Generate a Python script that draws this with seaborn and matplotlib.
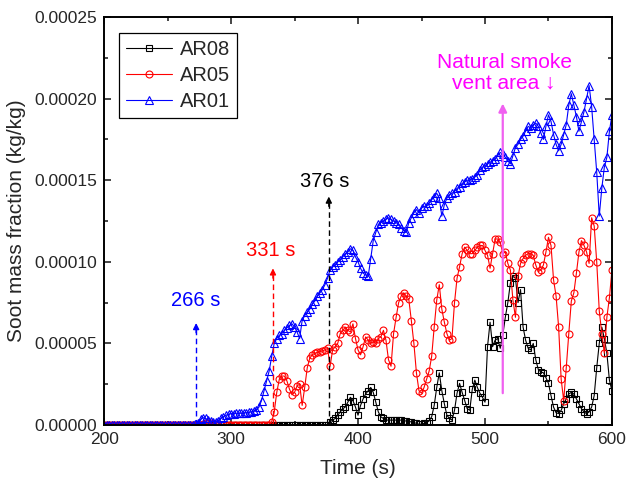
# Soot mass fraction vs time for three vent area cases

import numpy as np
import pandas as pd
import matplotlib
matplotlib.use("Agg")
import matplotlib.pyplot as plt
from matplotlib.ticker import MultipleLocator, FormatStrFormatter
import seaborn as sns

# Time (s), sampled every 2 s
time = np.arange(200, 601, 2)

# Soot mass fraction in units of 1e-5 kg/kg
ar08 = ([0.0] * 89 +
        [0.2, 0.3, 0.4, 0.6, 0.8, 1.0, 1.1, 1.4, 1.7, 1.5, 1.1, 0.6, 1.2, 1.6, 1.9, 2.1, 2.3, 2.0, 1.4, 0.8,
         0.5, 0.4, 0.3, 0.3, 0.3, 0.3, 0.3, 0.3, 0.3, 0.25, 0.25, 0.2, 0.2, 0.15, 0.1, 0.05, 0.05, 0.1, 0.15, 0.25,
         0.5, 1.2, 2.3, 3.2, 2.1, 1.3, 0.6, 0.4, 0.3, 0.9, 1.95, 2.55, 2.0, 1.5, 1.0, 0.9, 2.2, 2.75, 2.3, 1.95,
         1.7, 1.4, 4.8, 6.3, 4.8, 5.2, 5.3, 4.7, 5.5, 6.6, 7.5, 8.7, 9.1, 9.0, 7.5, 8.3, 6.0, 5.2, 4.7, 4.6,
         5.0, 4.0, 3.4, 3.25, 3.2, 2.9, 2.55, 1.8, 1.1, 0.75, 0.7, 0.9, 1.3, 1.6, 1.9, 2.0, 1.9, 1.6, 1.3, 1.0,
         0.8, 0.7, 0.8, 1.1, 1.8, 3.5, 5.0, 6.0, 5.3, 4.4, 2.75, 2.1])

ar05 = ([0.0] * 39 +
        [0.05, 0.1, 0.12, 0.1, 0.08, 0.05, 0.03] +
        [0.0] * 20 +
        [0.2, 0.8, 2.0, 2.8, 3.0, 3.0, 2.7, 2.2, 1.85, 2.0, 2.4, 2.5, 1.2, 2.3, 3.5, 4.1, 4.3, 4.4, 4.45, 4.5,
         4.55, 4.6, 4.7, 3.6, 4.6, 4.8, 5.0, 5.6, 5.8, 6.0, 5.8, 5.7, 6.2, 5.3, 4.6, 4.3, 4.8, 5.4, 5.2, 5.0,
         5.1, 5.0, 5.3, 5.4, 5.8, 5.2, 4.0, 3.6, 5.6, 6.6, 7.5, 7.9, 8.1, 7.9, 7.7, 6.4, 5.0, 3.2, 2.1, 1.95,
         2.3, 2.8, 3.3, 4.2, 6.0, 7.65, 8.6, 7.1, 6.3, 5.6, 5.2, 5.3, 7.5, 9.0, 9.7, 10.5, 10.9, 10.7, 10.5, 10.5,
         10.7, 10.9, 11.0, 11.0, 10.7, 10.4, 9.6, 10.5, 11.4, 11.4, 11.2, 10.5, 10.6, 9.9, 9.5, 7.65, 6.6, 9.1, 9.9, 10.2,
         10.4, 10.5, 10.5, 10.4, 9.8, 9.4, 9.5, 9.8, 10.6, 11.5, 11.0, 8.9, 7.9, 6.0, 2.8, 1.5, 3.5, 5.6, 7.6, 8.1,
         9.3, 10.6, 11.3, 11.0, 10.6, 9.9, 12.7, 12.2, 10.0, 7.0, 5.6, 4.4, 6.6, 7.8, 9.5])

ar01 = ([0.0] * 36 +
        [0.05, 0.15, 0.35, 0.45, 0.4, 0.3, 0.25, 0.2, 0.2, 0.25, 0.4, 0.5, 0.6, 0.65,
         0.7, 0.7, 0.72, 0.72, 0.72, 0.75, 0.75, 0.78, 0.8, 0.85, 0.9, 1.1, 1.5, 2.1, 2.7, 3.3, 4.2, 5.0, 5.3, 5.5,
         5.6, 5.8, 5.95, 6.1, 6.2, 6.0, 5.7, 5.3, 6.4, 6.7, 6.9, 7.1, 7.4, 7.6, 7.9, 8.1, 8.3, 8.6, 9.0, 9.5,
         9.7, 9.8, 10.0, 10.1, 10.3, 10.5, 10.6, 10.8, 10.7, 10.3, 10.0, 9.6, 9.3, 9.2, 9.1, 10.2, 11.3, 11.8, 12.3, 12.4,
         12.5, 12.6, 12.7, 12.6, 12.5, 12.4, 12.3, 12.1, 11.9, 11.8, 12.4, 12.7, 13.0, 13.2, 13.0, 13.3, 13.4, 13.4, 13.6, 13.8,
         14.0, 14.2, 13.9, 12.8, 13.5, 13.9, 14.1, 14.2, 14.3, 14.5, 14.6, 14.8, 14.9, 15.0, 15.0, 15.1, 15.2, 15.3, 15.6, 15.8,
         15.9, 16.0, 16.1, 16.2, 16.3, 16.5, 16.7, 16.6, 16.4, 16.2, 16.0, 16.5, 17.0, 17.2, 17.5, 17.7, 18.0, 18.3, 18.2, 18.4,
         18.5, 18.3, 17.9, 17.5, 18.3, 19.0, 18.6, 17.8, 17.2, 16.8, 17.2, 17.8, 18.4, 19.6, 20.3, 19.6, 18.9, 18.0, 18.6, 19.2,
         20.0, 20.8, 19.5, 17.5, 15.5, 12.8, 14.5, 15.8, 16.4, 18.0, 19.0])

# Onset annotations: label, arrow time, arrow top, text x, text y, colour (y in 1e-5)
onset_labels = ["266 s", "331 s", "376 s"]
onset_arrow_t = [272.5, 333, 377]
onset_arrow_top = [6.25, 9.6, 14.0]
onset_text_xy = [(272.4, 7.65), (331.5, 10.7), (374, 14.9)]
onset_colors = ["blue", "red", "black"]

sns.set_style("ticks")
plt.rcParams["font.family"] = ["Liberation Sans", "DejaVu Sans"]

fig = plt.figure(figsize=(6.27, 4.86), dpi=100)
ax = fig.add_axes([0.166, 0.1255, 0.81, 0.8395])

series = [("AR08", ar08, "black", "s", 4.5),
          ("AR05", ar05, "red", "o", 5.0),
          ("AR01", ar01, "blue", "^", 6.0)]

for name, vals, col, mk, ms in series:
    df = pd.DataFrame({"Time": time, "Soot": np.array(vals) * 1e-5})
    sns.lineplot(data=df, x="Time", y="Soot", ax=ax, color=col, marker=mk,
                 markersize=ms, markerfacecolor="none", markeredgecolor=col,
                 markeredgewidth=0.8, linewidth=0.8, label=name, estimator=None)

# dashed onset arrows
for lab, t, top, (tx, ty), c in zip(onset_labels, onset_arrow_t, onset_arrow_top, onset_text_xy, onset_colors):
    ax.vlines(t, 0, (top - 0.3) * 1e-5, colors=c, linestyles=(0, (4, 2.5)), linewidth=1.0)
    ax.annotate("", xy=(t, top * 1e-5), xytext=(t, (top - 0.6) * 1e-5),
                arrowprops=dict(arrowstyle="-|>", color=c, lw=1.0, mutation_scale=9,
                                shrinkA=0, shrinkB=0))
    ax.text(tx, ty * 1e-5, lab, color=c, fontsize=14.5, ha="center", va="center")

# natural smoke vent arrow
ax.annotate("", xy=(514, 19.7e-5), xytext=(514, 1.95e-5),
            arrowprops=dict(arrowstyle="-|>", color="#f060f0", lw=1.6, mutation_scale=12,
                            shrinkA=0, shrinkB=0))
ax.text(515, 21.6e-5, "Natural smoke\nvent area \u2193", color="#ff00ff", fontsize=15,
        ha="center", va="center", multialignment="center", linespacing=1.1)

ax.set_xlim(200, 600)
ax.set_ylim(0, 0.00025)
ax.xaxis.set_major_locator(MultipleLocator(100))
ax.xaxis.set_minor_locator(MultipleLocator(50))
ax.yaxis.set_major_locator(MultipleLocator(0.00005))
ax.yaxis.set_minor_locator(MultipleLocator(0.000025))
ax.yaxis.set_major_formatter(FormatStrFormatter("%.5f"))
ax.tick_params(which="both", direction="in", top=True, right=True, width=1.2, labelsize=12.5, pad=5)
ax.tick_params(which="major", length=5)
ax.tick_params(which="minor", length=3)
for sp in ax.spines.values():
    sp.set_linewidth(1.4)
    sp.set_color("black")

ax.set_xlabel("Time (s)", fontsize=15, labelpad=9)
ax.set_ylabel("Soot mass fraction (kg/kg)", fontsize=15, labelpad=6)

leg = ax.legend(loc="upper left", bbox_to_anchor=(0.0295, 0.961), borderaxespad=0,
                fancybox=False, framealpha=1, edgecolor="black", fontsize=14.5,
                handlelength=2.3, labelspacing=0.35, borderpad=0.35, handletextpad=0.35)
leg.get_frame().set_linewidth(0.9)

fig.savefig("out.png", dpi=100)
